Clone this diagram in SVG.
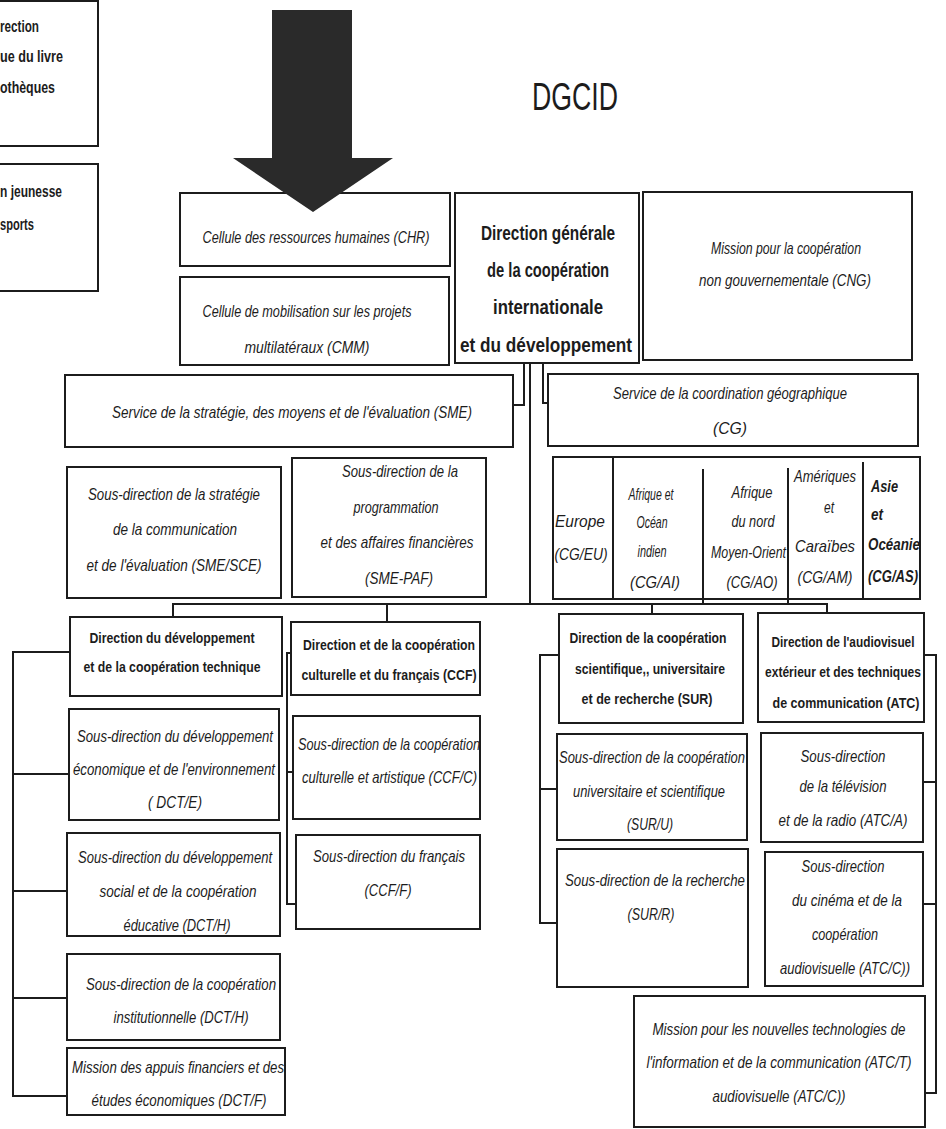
<svg xmlns="http://www.w3.org/2000/svg" width="946" height="1129" viewBox="0 0 946 1129">
<style>
.n{fill:#fff;stroke:#1c1c1c;stroke-width:2}
.i{font-family:"Liberation Sans Narrow","Liberation Sans",Arial,sans-serif;font-style:italic;font-size:17px;fill:#1c1c1c}
.g{font-family:"Liberation Sans Narrow","Liberation Sans",Arial,sans-serif;font-style:italic;font-size:16.5px;fill:#1c1c1c}
.bd{font-family:"Liberation Sans Narrow","Liberation Sans",Arial,sans-serif;font-weight:bold;font-size:21px;fill:#1c1c1c}
.bs{font-family:"Liberation Sans Narrow","Liberation Sans",Arial,sans-serif;font-weight:bold;font-size:15px;fill:#1c1c1c}
.bl{font-family:"Liberation Sans Narrow","Liberation Sans",Arial,sans-serif;font-weight:bold;font-size:17px;fill:#1c1c1c}
.bg{font-family:"Liberation Sans Narrow","Liberation Sans",Arial,sans-serif;font-weight:bold;font-style:italic;font-size:16.5px;fill:#1c1c1c}
.c{text-anchor:middle}
.k{stroke:#1c1c1c;stroke-width:2;fill:none}
.dv{stroke:#1c1c1c;stroke-width:2}
</style>
<rect width="946" height="1129" fill="#fff"/>

<g id="connectors">
<polyline class="k" points="524,363 524,405 513,405"/>
<line class="k" x1="530" y1="363" x2="530" y2="604"/>
<polyline class="k" points="543,364 543,403 548,403"/>
<line class="k" x1="172" y1="604" x2="828" y2="604"/>
<line class="k" x1="173" y1="604" x2="173" y2="617"/>
<line class="k" x1="387" y1="604" x2="387" y2="622"/>
<line class="k" x1="652" y1="604" x2="652" y2="614"/>
<line class="k" x1="827" y1="603" x2="827" y2="613"/>
<line class="k" x1="703" y1="599" x2="703" y2="604"/>
<line class="k" x1="788" y1="599" x2="788" y2="604"/>
<line class="k" x1="13" y1="651" x2="13" y2="1097"/>
<line class="k" x1="12" y1="652" x2="70" y2="652"/>
<line class="k" x1="13" y1="774" x2="69" y2="774"/>
<line class="k" x1="13" y1="891" x2="67" y2="891"/>
<line class="k" x1="12" y1="998" x2="67" y2="998"/>
<line class="k" x1="12" y1="1096" x2="67" y2="1096"/>
<line class="k" x1="287" y1="652" x2="287" y2="905"/>
<line class="k" x1="286" y1="653" x2="291" y2="653"/>
<line class="k" x1="287" y1="772" x2="293" y2="772"/>
<line class="k" x1="287" y1="904" x2="296" y2="904"/>
<line class="k" x1="540" y1="654" x2="540" y2="924"/>
<line class="k" x1="539" y1="655" x2="559" y2="655"/>
<line class="k" x1="540" y1="789" x2="557" y2="789"/>
<line class="k" x1="540" y1="923" x2="557" y2="923"/>
<line class="k" x1="936" y1="654" x2="936" y2="1094"/>
<line class="k" x1="924" y1="655" x2="937" y2="655"/>
<line class="k" x1="923" y1="782" x2="936" y2="782"/>
<line class="k" x1="923" y1="904" x2="936" y2="904"/>
<line class="k" x1="925" y1="1093" x2="936" y2="1093"/>
</g>

<g id="box-livre">
<rect class="n" x="-10" y="1" width="108" height="145"/>
<text class="bl" x="0" y="32" textLength="39" lengthAdjust="spacingAndGlyphs">rection</text>
<text class="bl" x="0" y="62" textLength="63" lengthAdjust="spacingAndGlyphs">ue du livre</text>
<text class="bl" x="0" y="93" textLength="55" lengthAdjust="spacingAndGlyphs">othèques</text>
</g>
<g id="box-jeunesse">
<rect class="n" x="-10" y="164" width="108" height="127"/>
<text class="bl" x="0" y="197" textLength="62" lengthAdjust="spacingAndGlyphs">n jeunesse</text>
<text class="bl" x="0" y="230" textLength="34" lengthAdjust="spacingAndGlyphs">sports</text>
</g>

<g id="title">
<text x="575" y="110" text-anchor="middle" style="font-family:'Liberation Sans Narrow','Liberation Sans',Arial,sans-serif;font-size:38px;fill:#1c1c1c" textLength="86" lengthAdjust="spacingAndGlyphs">DGCID</text>
</g>

<g id="chr">
<rect class="n" x="180" y="193" width="270" height="73"/>
<text class="i c" x="316" y="243" textLength="227" lengthAdjust="spacingAndGlyphs">Cellule des ressources humaines (CHR)</text>
</g>
<g id="cmm">
<rect class="n" x="180" y="277" width="269" height="88"/>
<text class="i c" x="307" y="317" textLength="209" lengthAdjust="spacingAndGlyphs">Cellule de mobilisation sur les projets</text>
<text class="i c" x="307" y="353" textLength="125" lengthAdjust="spacingAndGlyphs">multilatéraux (CMM)</text>
</g>

<g id="arrow">
<polygon points="272,10 352,10 352,158 393,158 313,212 233,158 272,158" fill="#2a2a2a"/>
</g>

<g id="dgcid">
<rect class="n" x="455" y="193" width="184" height="170"/>
<text class="bd c" x="548" y="240" textLength="134" lengthAdjust="spacingAndGlyphs">Direction générale</text>
<text class="bd c" x="548" y="277" textLength="122" lengthAdjust="spacingAndGlyphs">de la coopération</text>
<text class="bd c" x="548" y="314" textLength="110" lengthAdjust="spacingAndGlyphs">internationale</text>
<text class="bd c" x="546" y="352" textLength="172" lengthAdjust="spacingAndGlyphs">et du développement</text>
</g>

<g id="cng">
<rect class="n" x="643" y="192" width="269" height="168"/>
<text class="i c" x="786" y="254" textLength="150" lengthAdjust="spacingAndGlyphs">Mission pour la coopération</text>
<text class="i c" x="785" y="286" textLength="172" lengthAdjust="spacingAndGlyphs">non gouvernementale (CNG)</text>
</g>

<g id="sme">
<rect class="n" x="65" y="375" width="448" height="72"/>
<text class="i c" x="292" y="418" textLength="360" lengthAdjust="spacingAndGlyphs">Service de la stratégie, des moyens et de l'évaluation (SME)</text>
</g>

<g id="cg">
<rect class="n" x="548" y="374" width="370" height="72"/>
<text class="i c" x="730" y="399" textLength="234" lengthAdjust="spacingAndGlyphs">Service de la coordination géographique</text>
<text class="i c" x="730" y="434" textLength="34" lengthAdjust="spacingAndGlyphs">(CG)</text>
</g>

<g id="sme-sce">
<rect class="n" x="67" y="467" width="214" height="131"/>
<text class="i c" x="174" y="500" textLength="172" lengthAdjust="spacingAndGlyphs">Sous-direction de la stratégie</text>
<text class="i c" x="175" y="535" textLength="124" lengthAdjust="spacingAndGlyphs">de la communication</text>
<text class="i c" x="174" y="571" textLength="175" lengthAdjust="spacingAndGlyphs">et de l'évaluation (SME/SCE)</text>
</g>

<g id="sme-paf">
<rect class="n" x="292" y="458" width="194" height="139"/>
<text class="i c" x="400" y="477" textLength="116" lengthAdjust="spacingAndGlyphs">Sous-direction de la</text>
<text class="i c" x="396" y="513" textLength="85" lengthAdjust="spacingAndGlyphs">programmation</text>
<text class="i c" x="397" y="548" textLength="153" lengthAdjust="spacingAndGlyphs">et des affaires financières</text>
<text class="i c" x="399" y="584" textLength="68" lengthAdjust="spacingAndGlyphs">(SME-PAF)</text>
</g>

<g id="geo">
<rect class="n" x="553" y="457" width="367" height="142"/>
<line class="dv" x1="613" y1="457" x2="613" y2="599"/>
<line class="dv" x1="703" y1="469" x2="703" y2="599"/>
<line class="dv" x1="788" y1="468" x2="788" y2="599"/>
<line class="dv" x1="863" y1="462" x2="863" y2="599"/>
<text class="g c" x="580" y="527" textLength="50" lengthAdjust="spacingAndGlyphs">Europe</text>
<text class="g c" x="581" y="560" textLength="53" lengthAdjust="spacingAndGlyphs">(CG/EU)</text>
<text class="g c" x="651" y="500" textLength="45" lengthAdjust="spacingAndGlyphs">Afrique et</text>
<text class="g c" x="652" y="528" textLength="31" lengthAdjust="spacingAndGlyphs">Océan</text>
<text class="g c" x="652" y="557" textLength="29" lengthAdjust="spacingAndGlyphs">indien</text>
<text class="g c" x="655" y="588" textLength="50" lengthAdjust="spacingAndGlyphs">(CG/AI)</text>
<text class="g c" x="752" y="498" textLength="41" lengthAdjust="spacingAndGlyphs">Afrique</text>
<text class="g c" x="753" y="527" textLength="43" lengthAdjust="spacingAndGlyphs">du nord</text>
<text class="g" x="711" y="558" textLength="75" lengthAdjust="spacingAndGlyphs">Moyen-Orient</text>
<text class="g c" x="752" y="588" textLength="51" lengthAdjust="spacingAndGlyphs">(CG/AO)</text>
<text class="g c" x="825" y="482" textLength="62" lengthAdjust="spacingAndGlyphs">Amériques</text>
<text class="g c" x="829" y="513" textLength="10" lengthAdjust="spacingAndGlyphs">et</text>
<text class="g c" x="825" y="552" textLength="60" lengthAdjust="spacingAndGlyphs">Caraïbes</text>
<text class="g c" x="825" y="583" textLength="55" lengthAdjust="spacingAndGlyphs">(CG/AM)</text>
<text class="bg" x="871" y="492" textLength="27" lengthAdjust="spacingAndGlyphs">Asie</text>
<text class="bg" x="871" y="520" textLength="12" lengthAdjust="spacingAndGlyphs">et</text>
<text class="bg" x="868" y="550" textLength="52" lengthAdjust="spacingAndGlyphs">Océanie</text>
<text class="bg" x="868" y="582" textLength="50" lengthAdjust="spacingAndGlyphs">(CG/AS)</text>
</g>

<g id="dct">
<rect class="n" x="70" y="617" width="212" height="79"/>
<text class="bs c" x="172" y="643" textLength="165" lengthAdjust="spacingAndGlyphs">Direction du développement</text>
<text class="bs c" x="172" y="672" textLength="177" lengthAdjust="spacingAndGlyphs">et de la coopération technique</text>
</g>
<g id="ccf">
<rect class="n" x="291" y="622" width="189" height="73"/>
<text class="bs c" x="389" y="650" textLength="172" lengthAdjust="spacingAndGlyphs">Direction et de la coopération</text>
<text class="bs c" x="389" y="680" textLength="175" lengthAdjust="spacingAndGlyphs">culturelle et du français (CCF)</text>
</g>
<g id="sur">
<rect class="n" x="559" y="614" width="184" height="109"/>
<text class="bs c" x="648" y="643" textLength="157" lengthAdjust="spacingAndGlyphs">Direction de la coopération</text>
<text class="bs c" x="650" y="674" textLength="150" lengthAdjust="spacingAndGlyphs">scientifique,, universitaire</text>
<text class="bs c" x="647" y="704" textLength="131" lengthAdjust="spacingAndGlyphs">et de recherche (SUR)</text>
</g>
<g id="atc">
<rect class="n" x="758" y="613" width="166" height="109"/>
<text class="bs c" x="843" y="647" textLength="143" lengthAdjust="spacingAndGlyphs">Direction de l'audiovisuel</text>
<text class="bs c" x="843" y="677" textLength="156" lengthAdjust="spacingAndGlyphs">extérieur et des techniques</text>
<text class="bs c" x="846" y="708" textLength="147" lengthAdjust="spacingAndGlyphs">de communication (ATC)</text>
</g>

<g id="dct-e">
<rect class="n" x="69" y="709" width="210" height="111"/>
<text class="i c" x="175" y="742" textLength="196" lengthAdjust="spacingAndGlyphs">Sous-direction du développement</text>
<text class="i c" x="174" y="775" textLength="202" lengthAdjust="spacingAndGlyphs">économique et de l'environnement</text>
<text class="i c" x="175" y="808" textLength="54" lengthAdjust="spacingAndGlyphs">( DCT/E)</text>
</g>
<g id="ccf-c">
<rect class="n" x="293" y="716" width="187" height="103"/>
<text class="i" x="298" y="750" textLength="182" lengthAdjust="spacingAndGlyphs">Sous-direction de la coopération</text>
<text class="i" x="302" y="783" textLength="175" lengthAdjust="spacingAndGlyphs">culturelle et artistique (CCF/C)</text>
</g>
<g id="dct-h">
<rect class="n" x="67" y="833" width="213" height="103"/>
<text class="i c" x="175" y="863" textLength="194" lengthAdjust="spacingAndGlyphs">Sous-direction du développement</text>
<text class="i c" x="178" y="897" textLength="157" lengthAdjust="spacingAndGlyphs">social et de la coopération</text>
<text class="i c" x="177" y="931" textLength="107" lengthAdjust="spacingAndGlyphs">éducative (DCT/H)</text>
</g>
<g id="ccf-f">
<rect class="n" x="296" y="835" width="184" height="94"/>
<text class="i c" x="389" y="862" textLength="152" lengthAdjust="spacingAndGlyphs">Sous-direction du français</text>
<text class="i c" x="388" y="896" textLength="47" lengthAdjust="spacingAndGlyphs">(CCF/F)</text>
</g>
<g id="dct-h2">
<rect class="n" x="67" y="954" width="213" height="86"/>
<text class="i c" x="181" y="990" textLength="190" lengthAdjust="spacingAndGlyphs">Sous-direction de la coopération</text>
<text class="i c" x="181" y="1023" textLength="135" lengthAdjust="spacingAndGlyphs">institutionnelle (DCT/H)</text>
</g>
<g id="dct-f">
<rect class="n" x="67" y="1048" width="218" height="67"/>
<text class="i c" x="178" y="1073" textLength="212" lengthAdjust="spacingAndGlyphs">Mission des appuis financiers et des</text>
<text class="i c" x="179" y="1106" textLength="175" lengthAdjust="spacingAndGlyphs">études économiques (DCT/F)</text>
</g>

<g id="sur-u">
<rect class="n" x="557" y="734" width="190" height="106"/>
<text class="i c" x="652" y="763" textLength="186" lengthAdjust="spacingAndGlyphs">Sous-direction de la coopération</text>
<text class="i c" x="649" y="797" textLength="152" lengthAdjust="spacingAndGlyphs">universitaire et scientifique</text>
<text class="i c" x="650" y="830" textLength="46" lengthAdjust="spacingAndGlyphs">(SUR/U)</text>
</g>
<g id="sur-r">
<rect class="n" x="557" y="849" width="191" height="138"/>
<text class="i c" x="655" y="886" textLength="180" lengthAdjust="spacingAndGlyphs">Sous-direction de la recherche</text>
<text class="i c" x="651" y="920" textLength="47" lengthAdjust="spacingAndGlyphs">(SUR/R)</text>
</g>
<g id="atc-a">
<rect class="n" x="761" y="733" width="162" height="109"/>
<text class="i c" x="843" y="762" textLength="85" lengthAdjust="spacingAndGlyphs">Sous-direction</text>
<text class="i c" x="843" y="792" textLength="87" lengthAdjust="spacingAndGlyphs">de la télévision</text>
<text class="i c" x="843" y="826" textLength="129" lengthAdjust="spacingAndGlyphs">et de la radio (ATC/A)</text>
</g>
<g id="atc-c">
<rect class="n" x="765" y="852" width="158" height="134"/>
<text class="i c" x="843" y="872" textLength="83" lengthAdjust="spacingAndGlyphs">Sous-direction</text>
<text class="i c" x="847" y="906" textLength="110" lengthAdjust="spacingAndGlyphs">du cinéma et de la</text>
<text class="i c" x="845" y="940" textLength="66" lengthAdjust="spacingAndGlyphs">coopération</text>
<text class="i c" x="845" y="974" textLength="130" lengthAdjust="spacingAndGlyphs">audiovisuelle (ATC/C))</text>
</g>
<g id="atc-t">
<rect class="n" x="634" y="996" width="291" height="131"/>
<text class="i c" x="779" y="1035" textLength="253" lengthAdjust="spacingAndGlyphs">Mission pour les nouvelles technologies de</text>
<text class="i c" x="779" y="1068" textLength="265" lengthAdjust="spacingAndGlyphs">l'information et de la communication (ATC/T)</text>
<text class="i c" x="779" y="1102" textLength="133" lengthAdjust="spacingAndGlyphs">audiovisuelle (ATC/C))</text>
</g>
</svg>
